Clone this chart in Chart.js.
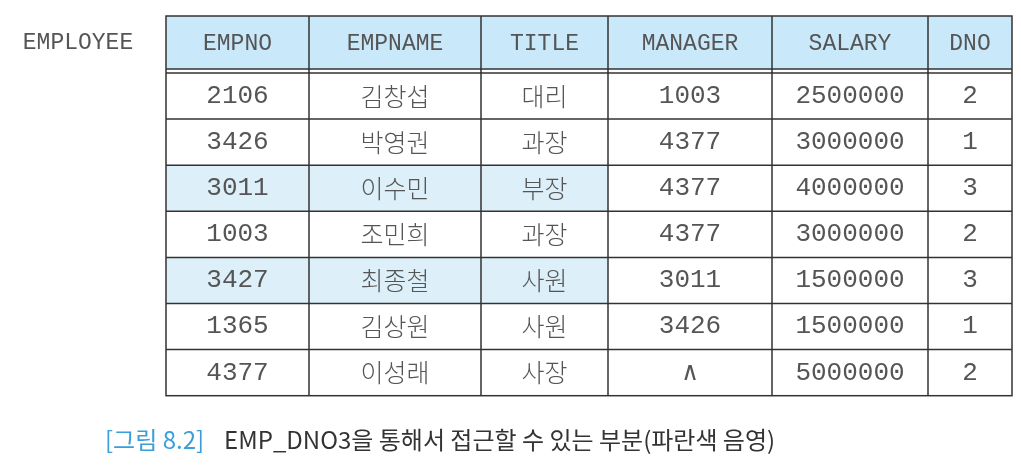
<!DOCTYPE html>
<html>
<head>
    <title>EMPLOYEE</title>
    <style>
        body { margin: 0; background: #fff; }
        #wrap { width: 1021px; height: 471px; }
    </style>
</head>
<body>
    <div id="wrap"><canvas id="tableChart"></canvas></div>

    <script src="https://cdn.jsdelivr.net/npm/chart.js"></script>
    <script>
        // table data
        const columns = ['EMPNO', 'EMPNAME', 'TITLE', 'MANAGER', 'SALARY', 'DNO'];
        const empNo = ['2106', '3426', '3011', '1003', '3427', '1365', '4377'];
        const empName = ['김창섭', '박영권', '이수민', '조민희', '최종철', '김상원', '이성래'];
        const title = ['대리', '과장', '부장', '과장', '사원', '사원', '사장'];
        const manager = ['1003', '4377', '4377', '4377', '3011', '3426', '∧'];
        const salary = ['2500000', '3000000', '4000000', '3000000', '1500000', '1500000', '5000000'];
        const dno = ['2', '1', '3', '2', '3', '1', '2'];
        const highlighted = [false, false, true, false, true, false, false];

        const tableName = 'EMPLOYEE';
        const captionTag = '[그림 8.2]';
        const captionText = 'EMP_DNO3을 통해서 접근할 수 있는 부분(파란색 음영)';

        // layout, in page units of the hidden scales
        const colEdges = [166, 309, 481, 608, 772, 928, 1012];
        const headTop = 16, headBottom = 69, bodyTop = 73, rowH = 46.1;

        const mono = '"Liberation Mono", "DejaVu Sans Mono", monospace';
        const kr = '"Noto Sans CJK KR", sans-serif';

        const tablePlugin = {
            id: 'tablePlugin',
            afterDraw(chart) {
                const ctx = chart.ctx;
                const X = v => chart.scales.x.getPixelForValue(v);
                const Y = v => chart.scales.y.getPixelForValue(v);
                const rows = empNo.map((_, i) => [empNo[i], empName[i], title[i], manager[i], salary[i], dno[i]]);
                ctx.save();
                ctx.textAlign = 'center';
                ctx.textBaseline = 'middle';

                // header
                ctx.fillStyle = '#c9e8f9';
                ctx.fillRect(X(colEdges[0]), Y(headTop), X(colEdges[6]) - X(colEdges[0]), Y(headBottom) - Y(headTop));
                // highlighted cells
                ctx.fillStyle = '#ddeff9';
                rows.forEach((r, i) => {
                    if (!highlighted[i]) return;
                    const y0 = Y(bodyTop + i * rowH);
                    ctx.fillRect(X(colEdges[0]), y0, X(colEdges[3]) - X(colEdges[0]), Y(bodyTop + (i + 1) * rowH) - y0);
                });

                // grid lines
                ctx.strokeStyle = '#333';
                ctx.lineWidth = 1.5;
                const bottom = bodyTop + rows.length * rowH;
                ctx.strokeRect(X(colEdges[0]), Y(headTop), X(colEdges[6]) - X(colEdges[0]), Y(bottom) - Y(headTop));
                ctx.beginPath();
                colEdges.slice(1, -1).forEach(c => { ctx.moveTo(X(c), Y(headTop)); ctx.lineTo(X(c), Y(bottom)); });
                [headBottom, bodyTop].forEach(y => { ctx.moveTo(X(colEdges[0]), Y(y)); ctx.lineTo(X(colEdges[6]), Y(y)); });
                for (let i = 1; i < rows.length; i++) {
                    ctx.moveTo(X(colEdges[0]), Y(bodyTop + i * rowH));
                    ctx.lineTo(X(colEdges[6]), Y(bodyTop + i * rowH));
                }
                ctx.stroke();
                ctx.fillStyle = '#fff';
                ctx.fillRect(X(colEdges[0]) + 1, Y(headBottom) + 1, X(colEdges[6]) - X(colEdges[0]) - 2, Y(bodyTop) - Y(headBottom) - 2);
                ctx.beginPath();
                colEdges.slice(1, -1).forEach(c => { ctx.moveTo(X(c), Y(headBottom)); ctx.lineTo(X(c), Y(bodyTop)); });
                ctx.stroke();

                // header text
                ctx.fillStyle = '#555';
                ctx.font = '23px ' + mono;
                columns.forEach((c, j) => {
                    ctx.fillText(c, X((colEdges[j] + colEdges[j + 1]) / 2), Y((headTop + headBottom) / 2 + 1));
                });
                ctx.fillText(tableName, X(78), Y(43));

                // body text
                rows.forEach((r, i) => {
                    const cy = Y(bodyTop + (i + 0.5) * rowH);
                    r.forEach((v, j) => {
                        ctx.font = (j === 1 || j === 2) ? '300 25px ' + kr : '26px ' + mono;
                        ctx.fillText(v, X((colEdges[j] + colEdges[j + 1]) / 2), cy);
                    });
                });

                // caption
                ctx.textAlign = 'left';
                ctx.font = '24px ' + kr;
                ctx.fillStyle = '#3a9fd8';
                let x = X(105);
                ctx.fillText(captionTag, x, Y(440));
                x += ctx.measureText(captionTag).width + 20;
                ctx.fillStyle = '#333';
                ctx.fillText(captionText, x, Y(440));
                ctx.restore();
            }
        };

        new Chart(document.getElementById('tableChart'), {
            type: 'scatter',
            data: { datasets: [{ data: [] }] },
            options: {
                responsive: true,
                maintainAspectRatio: false,
                animation: false,
                layout: { padding: 0 },
                plugins: { legend: { display: false }, tooltip: { enabled: false } },
                scales: {
                    x: { type: 'linear', min: 0, max: 1021, display: false },
                    y: { type: 'linear', min: 0, max: 471, reverse: true, display: false }
                }
            },
            plugins: [tablePlugin]
        });
    </script>
</body>
</html>
